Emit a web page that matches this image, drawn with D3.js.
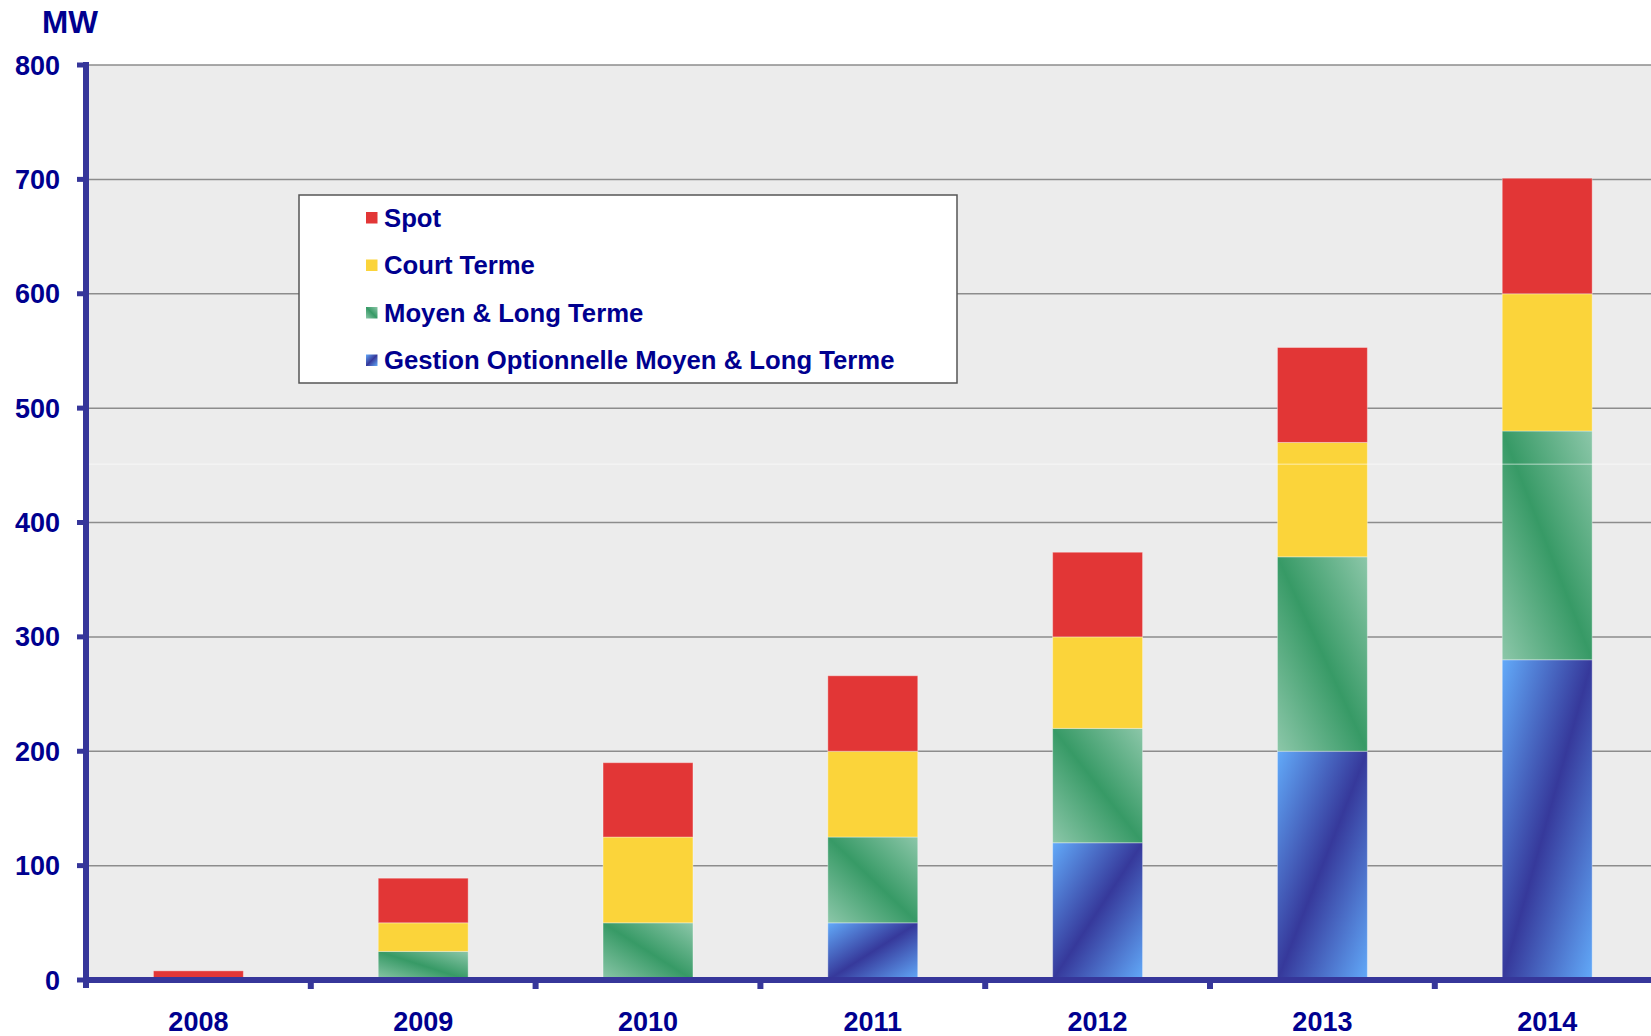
<!DOCTYPE html>
<html>
<head>
<meta charset="utf-8">
<script src="https://cdn.jsdelivr.net/npm/d3@7"></script>
<style>
  html, body { margin: 0; padding: 0; background: #fff; }
  svg { display: block; font-family: "Liberation Sans", Arial, sans-serif; font-weight: bold; }
</style>
</head>
<body>
<svg width="1651" height="1036"></svg>
<script>
// data (MW)
const years = ['2008', '2009', '2010', '2011', '2012', '2013', '2014']
const gestion = [0, 0, 0, 50, 120, 200, 280]
const moyenLong = [0, 25, 50, 75, 100, 170, 200]
const courtTerme = [0, 25, 75, 75, 80, 100, 120]
const spot = [8, 39, 65, 66, 74, 83, 101]
const yTicks = [0, 100, 200, 300, 400, 500, 600, 700, 800]
const seriesNames = ['Spot', 'Court Terme', 'Moyen & Long Terme', 'Gestion Optionnelle Moyen & Long Terme']

const svg = d3.select('svg')
const textColor = '#00008f'
const axisColor = '#36369a'

const plotLeft = 86, plotTop = 65, plotBottom = 980, step = 224.8
const x = d3.scaleBand().domain(years)
    .range([plotLeft, plotLeft + step * years.length])
    .paddingInner(0.6).paddingOuter(0.3)
const y = d3.scaleLinear().domain([0, 800]).range([plotBottom, plotTop])

// gradients
const defs = svg.append('defs')
const green = defs.append('linearGradient').attr('id', 'gGreen')
    .attr('x1', 0).attr('y1', 1).attr('x2', 1).attr('y2', 0)
green.append('stop').attr('offset', '0%').attr('stop-color', '#8cc7a9')
green.append('stop').attr('offset', '50%').attr('stop-color', '#379a66')
green.append('stop').attr('offset', '100%').attr('stop-color', '#8cc7a9')
const blue = defs.append('linearGradient').attr('id', 'gBlue')
    .attr('x1', 0).attr('y1', 0).attr('x2', 1).attr('y2', 1)
blue.append('stop').attr('offset', '0%').attr('stop-color', '#62aaf9')
blue.append('stop').attr('offset', '50%').attr('stop-color', '#36399b')
blue.append('stop').attr('offset', '100%').attr('stop-color', '#62aaf9')

const fills = ['#e23636', '#fbd43a', 'url(#gGreen)', 'url(#gBlue)']

// plot background
svg.append('rect')
    .attr('x', plotLeft).attr('y', plotTop)
    .attr('width', 1651 - plotLeft).attr('height', plotBottom - plotTop)
    .attr('fill', '#ececec')

// gridlines
svg.append('g').selectAll('line')
    .data(yTicks.filter(d => d > 0))
    .enter().append('line')
    .attr('x1', plotLeft).attr('x2', 1651)
    .attr('y1', d => y(d)).attr('y2', d => y(d))
    .attr('stroke', '#8c8c8c').attr('stroke-width', 1.5)

// stacked bars (bottom to top: gestion, moyen, court, spot)
const table = years.map((yr, i) => ({
    year: yr, gestion: gestion[i], moyen: moyenLong[i], court: courtTerme[i], spot: spot[i]
}))
const keys = ['gestion', 'moyen', 'court', 'spot']
const keyFill = { spot: fills[0], court: fills[1], moyen: fills[2], gestion: fills[3] }
const stack = d3.stack().keys(keys)(table)

svg.append('g').selectAll('g')
    .data(stack)
    .enter().append('g')
    .attr('fill', d => keyFill[d.key])
    .selectAll('rect')
    .data(d => d.filter(s => s[1] - s[0] > 0))
    .enter().append('rect')
    .attr('x', d => x(d.data.year))
    .attr('y', d => y(d[1]))
    .attr('width', x.bandwidth())
    .attr('height', d => y(d[0]) - y(d[1]))
    .attr('stroke', 'rgba(255,255,255,0.35)')
    .attr('stroke-width', 1)

// faint artefact line
svg.append('line')
    .attr('x1', plotLeft + 3).attr('x2', 1651)
    .attr('y1', y(451)).attr('y2', y(451))
    .attr('stroke', '#fff').attr('stroke-opacity', 0.6).attr('stroke-width', 1)

// x axis
const edges = years.map(d => x(d) - (x.step() - x.bandwidth()) / 2)
svg.append('g').selectAll('line')
    .data(edges.slice(1))
    .enter().append('line')
    .attr('x1', d => d).attr('x2', d => d)
    .attr('y1', plotBottom).attr('y2', plotBottom + 9)
    .attr('stroke', axisColor).attr('stroke-width', 6)
svg.append('line')
    .attr('x1', plotLeft - 3).attr('x2', 1651)
    .attr('y1', plotBottom).attr('y2', plotBottom)
    .attr('stroke', axisColor).attr('stroke-width', 6)

svg.append('g').selectAll('text')
    .data(years)
    .enter().append('text')
    .attr('x', d => x(d) + x.bandwidth() / 2)
    .attr('y', 1031)
    .attr('text-anchor', 'middle')
    .attr('font-size', 27)
    .attr('fill', textColor)
    .text(d => d)

// y axis
svg.append('line')
    .attr('x1', plotLeft).attr('x2', plotLeft)
    .attr('y1', plotTop - 3).attr('y2', plotBottom + 8)
    .attr('stroke', axisColor).attr('stroke-width', 6)
svg.append('g').selectAll('line')
    .data(yTicks)
    .enter().append('line')
    .attr('x1', plotLeft - 9).attr('x2', plotLeft)
    .attr('y1', d => y(d)).attr('y2', d => y(d))
    .attr('stroke', axisColor).attr('stroke-width', 5)
svg.append('g').selectAll('text')
    .data(yTicks)
    .enter().append('text')
    .attr('x', 60)
    .attr('y', d => y(d) + 9.5)
    .attr('text-anchor', 'end')
    .attr('font-size', 27)
    .attr('fill', textColor)
    .text(d => d)

svg.append('text')
    .attr('x', 42).attr('y', 33)
    .attr('font-size', 31.5)
    .attr('fill', textColor)
    .text('MW')

// legend
const lg = svg.append('g')
lg.append('rect')
    .attr('x', 299).attr('y', 195)
    .attr('width', 658).attr('height', 188)
    .attr('fill', '#fff').attr('stroke', '#555').attr('stroke-width', 1.5)
const rows = lg.selectAll('g')
    .data(seriesNames)
    .enter().append('g')
    .attr('transform', (d, i) => `translate(366, ${212 + i * 47.5})`)
rows.append('rect')
    .attr('width', 11.5).attr('height', 11.5)
    .attr('fill', (d, i) => fills[i])
rows.append('text')
    .attr('x', 18).attr('y', 14.5)
    .attr('font-size', 25.7)
    .attr('fill', textColor)
    .text(d => d)
</script>
</body>
</html>
